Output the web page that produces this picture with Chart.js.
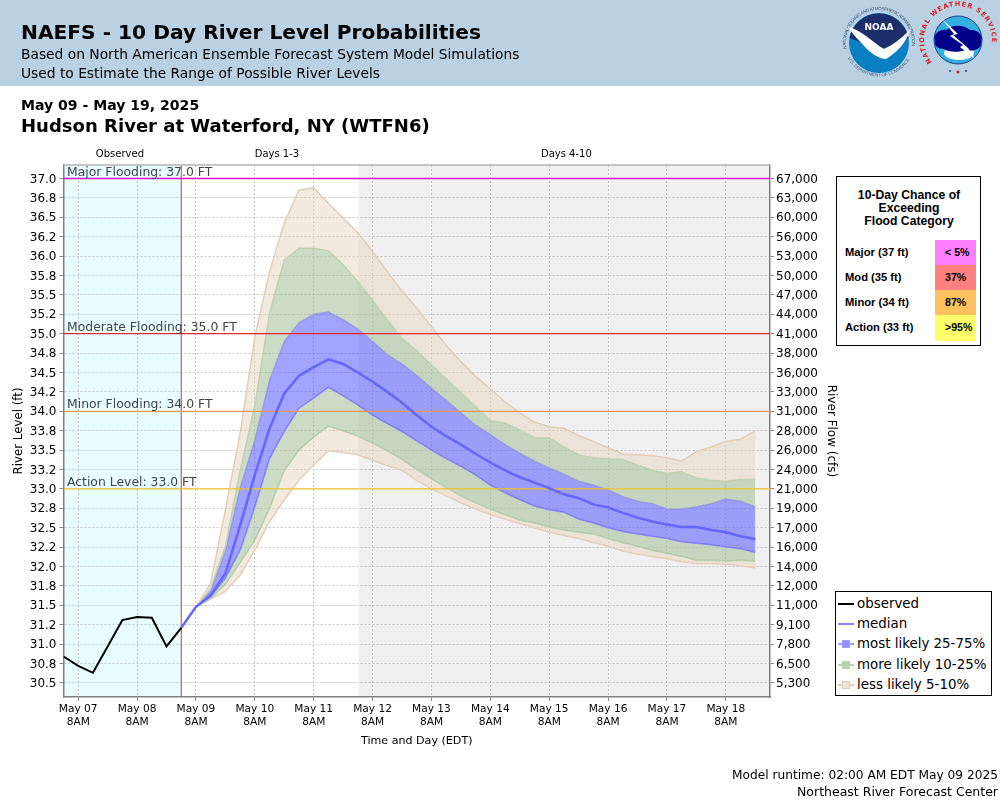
<!DOCTYPE html>
<html>
<head>
<meta charset="utf-8">
<title>NAEFS - 10 Day River Level Probabilities</title>
<script src="https://cdn.jsdelivr.net/npm/chart.js@4"></script>
<style>
  html, body { margin: 0; padding: 0; background: #fff; }
  body { width: 1000px; height: 800px; position: relative; overflow: hidden; font-family: "DejaVu Sans", sans-serif; color: #000; }
  #banner { position: absolute; left: 0; top: 0; width: 1000px; height: 86px; background: #bad1e3; }
  #chart { position: absolute; left: 0; top: 0; }
  .t { position: absolute; white-space: nowrap; }
  #logos { position: absolute; left: 830px; top: 0; }
  #floodBox { position: absolute; left: 836px; top: 176px; width: 143px; height: 168px; border: 1.5px solid #000; background: #fff; font-family: "Liberation Sans", sans-serif; font-weight: bold; }
  #floodBox .head { position: absolute; left: 0; width: 144px; top: 12px; text-align: center; font-size: 12.2px; line-height: 13px; }
  #floodBox .row { position: absolute; left: 0; width: 143px; height: 25px; font-size: 11.2px; line-height: 25px; }
  #floodBox .row .name { position: absolute; left: 8px; }
  #floodBox .row .pct { position: absolute; left: 98px; width: 41px; font-size: 10.6px; }
  #floodBox .row .pct span { position: absolute; left: 10px; }
  #legendBox { position: absolute; left: 835px; top: 591px; width: 155px; height: 103px; border: 1.5px solid #000; background: #fff; font-size: 13.4px; }
  #legendBox .item { position: absolute; left: 0; width: 155px; height: 20px; line-height: 20px; }
  #legendBox .item .lbl { position: absolute; left: 21px; }
  #legendBox .item .ln { position: absolute; left: 2px; width: 16px; height: 2px; top: 9px; }
  #legendBox .item .sq { position: absolute; left: 7px; width: 6px; height: 6px; top: 7px; }
</style>
</head>
<body>
<div id="banner"></div>
<canvas id="chart" width="1000" height="800"></canvas>

<div class="t" style="left:21px;top:20px;font-size:20.2px;font-weight:bold">NAEFS - 10 Day River Level Probabilities</div>
<div class="t" style="left:21px;top:46px;font-size:13.8px">Based on North American Ensemble Forecast System Model Simulations</div>
<div class="t" style="left:21px;top:65px;font-size:13.8px">Used to Estimate the Range of Possible River Levels</div>
<div class="t" style="left:21px;top:97px;font-size:14.05px;font-weight:bold">May 09 - May 19, 2025</div>
<div class="t" style="left:21px;top:115px;font-size:18.05px;font-weight:bold">Hudson River at Waterford, NY (WTFN6)</div>
<div class="t" style="right:2px;top:768px;font-size:12.2px">Model runtime: 02:00 AM EDT May 09 2025</div>
<div class="t" style="right:2px;top:784px;font-size:12.5px">Northeast River Forecast Center</div>

<svg id="logos" width="170" height="86" viewBox="830 0 170 86">
  <defs>
    <path id="noaaTop" d="M 846.5 48.7 A 33 33 0 1 1 911.5 48.7"></path>
    <path id="noaaBot" d="M 847 57 A 36 36 0 0 0 911 57"></path>
    <path id="nwsTop" d="M 932 62 A 34 34 0 1 1 984 62"></path>
  </defs>
  <text font-family="Liberation Sans" font-size="4.6" fill="#3a5a80"><textPath href="#noaaTop" textLength="112">NATIONAL OCEANIC AND ATMOSPHERIC ADMINISTRATION</textPath></text>
  <text font-family="Liberation Sans" font-size="4.4" fill="#3a5a80"><textPath href="#noaaBot" startOffset="2%" textLength="74">U.S. DEPARTMENT OF COMMERCE</textPath></text>
  <circle cx="879" cy="43" r="30" fill="#0a7fc2"></circle>
  <path d="M 849.5 38 A 30 30 0 0 1 908.5 38 L 880 50 Z" fill="#1d2f6b"></path>
  <path d="M 848 27 C 862 30 872 42 884 49 C 893 45 905 36 911 28 C 906 45 894 54 886 59 C 879 59 871 53 866 48 C 860 41 853 35 848 27 Z" fill="#fff"></path>
  <text x="879" y="30" text-anchor="middle" font-family="DejaVu Sans" font-weight="bold" font-size="9" fill="#fff">NOAA</text>

  <text font-family="DejaVu Sans" font-weight="bold" font-size="6.6" letter-spacing="1" fill="#d8232a"><textPath href="#nwsTop">NATIONAL WEATHER SERVICE</textPath></text>
  <circle cx="958" cy="40" r="24" fill="#35aee0" stroke="#1a3d8f" stroke-width="1"></circle>
  <ellipse cx="959" cy="53" rx="15" ry="7" fill="#fff"></ellipse>
  <path d="M 935 41 C 933 33 940 29 947 30 C 952 24 964 25 970 30 C 977 29 984 35 981 42 C 982 49 973 52 966 50 C 958 53 948 52 944 49 C 938 49 934 46 935 41 Z" fill="#00008b"></path>
  <path d="M 942 19 L 958 34 L 953 35 L 968 48 L 975 59 L 960 47 L 963 45 L 950 36 L 954 34 Z" fill="#fff"></path>
  <circle cx="950" cy="71" r="1" fill="#1a3d8f"></circle>
  <circle cx="958" cy="72" r="1.6" fill="#d8232a"></circle>
  <circle cx="966" cy="71" r="1" fill="#1a3d8f"></circle>
</svg>

<div id="floodBox">
  <div class="head">10-Day Chance of<br>Exceeding<br>Flood Category</div>
</div>
<div id="legendBox"></div>

<script>
// stage ticks (ft) and the rating curve labels that sit on the same gridlines
const stageTicks = [30.5, 30.75, 31, 31.25, 31.5, 31.75, 32, 32.25, 32.5, 32.75, 33, 33.25, 33.5, 33.75, 34, 34.25, 34.5, 34.75, 35, 35.25, 35.5, 35.75, 36, 36.25, 36.5, 36.75, 37];
const stageLabels = ["30.5", "30.8", "31.0", "31.2", "31.5", "31.8", "32.0", "32.2", "32.5", "32.8", "33.0", "33.2", "33.5", "33.8", "34.0", "34.2", "34.5", "34.8", "35.0", "35.2", "35.5", "35.8", "36.0", "36.2", "36.5", "36.8", "37.0"];
const flowLabels = ["5,300", "6,500", "7,800", "9,100", "11,000", "12,000", "14,000", "16,000", "17,000", "19,000", "21,000", "24,000", "26,000", "28,000", "31,000", "33,000", "36,000", "38,000", "41,000", "44,000", "47,000", "50,000", "53,000", "56,000", "60,000", "63,000", "67,000"];

// x is hours after May 07 8AM
const dayTicks = [0, 24, 48, 72, 96, 120, 144, 168, 192, 216, 240, 264];
const dayLabels = ["May 07", "May 08", "May 09", "May 10", "May 11", "May 12", "May 13", "May 14", "May 15", "May 16", "May 17", "May 18"];

const observedHours = [-6, 0, 6, 12, 18, 24, 30, 36, 42];
const observed = [30.84, 30.72, 30.63, 30.97, 31.31, 31.35, 31.34, 30.97, 31.21];

const forecastHours = [48, 54, 60, 66, 72, 78, 84, 90, 96, 102, 108, 114, 120, 126, 132, 138, 144, 150, 156, 162, 168, 174, 180, 186, 192, 198, 204, 210, 216, 222, 228, 234, 240, 246, 252, 258, 264, 270, 276];
const medianHours = [42].concat(forecastHours);
const median = [31.21, 31.48, 31.63, 31.91, 32.53, 33.18, 33.78, 34.23, 34.46, 34.57, 34.67, 34.61, 34.50, 34.38, 34.25, 34.11, 33.95, 33.80, 33.68, 33.57, 33.45, 33.34, 33.24, 33.15, 33.08, 33.01, 32.93, 32.88, 32.80, 32.76, 32.69, 32.63, 32.58, 32.54, 32.51, 32.51, 32.47, 32.44, 32.39, 32.35];
const tanTop = [31.48, 31.79, 32.73, 33.72, 34.96, 35.80, 36.43, 36.85, 36.88, 36.68, 36.49, 36.30, 36.06, 35.80, 35.55, 35.33, 35.09, 34.85, 34.64, 34.45, 34.29, 34.12, 33.98, 33.86, 33.80, 33.78, 33.69, 33.61, 33.53, 33.45, 33.44, 33.43, 33.40, 33.36, 33.48, 33.54, 33.61, 33.64, 33.75];
const greenTop = [31.48, 31.72, 32.26, 33.24, 34.08, 35.27, 35.95, 36.10, 36.10, 36.07, 35.89, 35.67, 35.43, 35.18, 34.94, 34.78, 34.60, 34.42, 34.24, 34.06, 33.88, 33.85, 33.76, 33.66, 33.66, 33.54, 33.44, 33.40, 33.39, 33.38, 33.31, 33.24, 33.20, 33.22, 33.14, 33.11, 33.10, 33.12, 33.12];
const blueTop = [31.48, 31.68, 32.19, 33.01, 33.63, 34.40, 34.90, 35.14, 35.25, 35.28, 35.18, 35.06, 34.90, 34.73, 34.61, 34.46, 34.30, 34.14, 33.98, 33.82, 33.70, 33.57, 33.46, 33.36, 33.27, 33.19, 33.10, 33.05, 32.99, 32.90, 32.84, 32.81, 32.74, 32.74, 32.77, 32.81, 32.87, 32.84, 32.77];
const blueBottom = [31.48, 31.61, 31.85, 32.21, 32.77, 33.39, 33.74, 34.04, 34.17, 34.31, 34.20, 34.08, 33.95, 33.84, 33.74, 33.62, 33.50, 33.39, 33.29, 33.18, 33.05, 32.95, 32.86, 32.78, 32.73, 32.70, 32.61, 32.56, 32.50, 32.45, 32.42, 32.39, 32.36, 32.32, 32.30, 32.28, 32.25, 32.23, 32.18];
const greenBottom = [31.48, 31.59, 31.77, 32.05, 32.34, 32.75, 33.24, 33.50, 33.67, 33.81, 33.75, 33.68, 33.59, 33.49, 33.38, 33.25, 33.13, 33.02, 32.91, 32.82, 32.74, 32.67, 32.60, 32.56, 32.51, 32.47, 32.44, 32.42, 32.36, 32.31, 32.26, 32.21, 32.17, 32.13, 32.08, 32.08, 32.07, 32.08, 32.07];
const tanBottom = [31.48, 31.58, 31.68, 31.89, 32.21, 32.58, 32.86, 33.11, 33.31, 33.49, 33.47, 33.44, 33.37, 33.30, 33.24, 33.11, 33.00, 32.91, 32.82, 32.74, 32.67, 32.61, 32.55, 32.50, 32.44, 32.40, 32.36, 32.31, 32.26, 32.20, 32.16, 32.13, 32.10, 32.06, 32.04, 32.04, 32.03, 32.01, 31.98];

const floodLevels = [37, 35, 34, 33];
const floodLabels = ["Major Flooding: 37.0 FT", "Moderate Flooding: 35.0 FT", "Minor Flooding: 34.0 FT", "Action Level: 33.0 FT"];
const floodColors = ["#dd11cc", "#dd2a2a", "#e89a55", "#f0c428"];

const chanceNames = ["Major (37 ft)", "Mod (35 ft)", "Minor (34 ft)", "Action (33 ft)"];
const chanceValues = ["< 5%", "37%", "87%", ">95%"];
const chanceColors = ["#ff80ff", "#ff8080", "#ffc060", "#ffff6c"];

const periodNames = ["Observed", "Days 1-3", "Days 4-10"];
const periodHours = [17, 81, 199];

const xMin = -6, xMax = 282, yMin = 30.318, yMax = 37.174;
const nowHour = 42, longRangeHour = 114.3;

const blueFill = "rgba(100,100,255,0.6)";
const greenFill = "rgba(170,195,160,0.6)";
const tanFill = "rgba(229,211,191,0.5)";
const blueLine = "#9090f8", greenLine = "#b8d2b0", tanLine = "#e4cfb6";

function pts(xs, ys) {
  return xs.map((x, i) => ({ x: x, y: ys[i] }));
}

function band(label, ys, line, fillColor) {
  return {
    label: label,
    data: pts(forecastHours, ys),
    borderColor: line,
    backgroundColor: fillColor || "transparent",
    borderWidth: 1.5,
    fill: fillColor ? "+1" : false,
    order: 3
  };
}

function hLine(i) {
  return {
    label: floodLabels[i],
    data: [{ x: xMin, y: floodLevels[i] }, { x: xMax, y: floodLevels[i] }],
    borderColor: floodColors[i],
    borderWidth: 1.3,
    fill: false,
    order: 2
  };
}

// shaded periods go under the grid, text and frame on top
const decorPlugin = {
  id: "decor",
  beforeDraw(chart) {
    const { ctx, chartArea: a, scales: { x } } = chart;
    ctx.save();
    ctx.fillStyle = "#e9ffff";
    ctx.fillRect(a.left, a.top, x.getPixelForValue(nowHour) - a.left, a.height);
    ctx.fillStyle = "#f0f0f0";
    const g = x.getPixelForValue(longRangeHour);
    ctx.fillRect(g, a.top, a.right - g, a.height);
    ctx.restore();
  },
  afterDraw(chart) {
    const { ctx, chartArea: a, scales: { x, y } } = chart;
    ctx.save();
    ctx.strokeStyle = "#b4b4b4";
    ctx.lineWidth = 1.5;
    ctx.beginPath();
    ctx.moveTo(a.left, a.top);
    ctx.lineTo(a.right, a.top);
    ctx.stroke();

    ctx.fillStyle = "#444";
    ctx.font = '12.4px "DejaVu Sans"';
    ctx.textBaseline = "alphabetic";
    floodLevels.forEach((lv, i) => {
      ctx.fillText(floodLabels[i], a.left + 3.5, y.getPixelForValue(lv) - 3);
    });

    ctx.fillStyle = "#000";
    ctx.font = '10px "DejaVu Sans"';
    ctx.textAlign = "center";
    periodNames.forEach((p, i) => {
      ctx.fillText(p, x.getPixelForValue(periodHours[i]), 157);
    });
    ctx.restore();
  }
};

function initChart() {
  const ctx = document.getElementById("chart").getContext("2d");
  new Chart(ctx, {
    type: "line",
    data: {
      datasets: [
        { label: "observed", data: pts(observedHours, observed), borderColor: "#000", borderWidth: 2, fill: false, order: 0 },
        { label: "median", data: pts(medianHours, median), borderColor: "#6666ff", borderWidth: 2.5, fill: false, order: 1 },
        band("less likely 5-10%", tanTop, tanLine, tanFill),
        band("more likely 10-25%", greenTop, greenLine, greenFill),
        band("most likely 25-75%", blueTop, blueLine, blueFill),
        band("25th", blueBottom, blueLine, greenFill),
        band("10th", greenBottom, greenLine, tanFill),
        band("5th", tanBottom, tanLine, null),
        hLine(0), hLine(1), hLine(2), hLine(3),
        { label: "now", data: [{ x: nowHour, y: yMin }, { x: nowHour, y: yMax }], borderColor: "#dd3333", borderWidth: 1, fill: false, order: 2 }
      ]
    },
    options: {
      responsive: false,
      animation: false,
      elements: { point: { radius: 0 }, line: { tension: 0 } },
      layout: { padding: { left: 11, right: 160, top: 165, bottom: 52 } },
      plugins: { legend: { display: false }, tooltip: { enabled: false } },
      scales: {
        x: {
          type: "linear",
          min: xMin,
          max: xMax,
          afterBuildTicks: s => { s.ticks = dayTicks.map(v => ({ value: v })); },
          afterFit: s => { s.height = 51; },
          ticks: {
            autoSkip: false,
            maxRotation: 0,
            color: "#000",
            font: { family: "DejaVu Sans", size: 10.6, lineHeight: 1.2 },
            padding: 2,
            callback: (v, i) => [dayLabels[i], "8AM"]
          },
          grid: { color: "#c4c4c4", tickColor: "#888", tickLength: 4 },
          border: { color: "#808080", width: 1.5, dash: [2, 2] },
          title: { display: true, text: "Time and Day (EDT)", color: "#000", font: { family: "DejaVu Sans", size: 11.1 }, padding: { top: 0, bottom: 0 } }
        },
        y: {
          position: "left",
          min: yMin,
          max: yMax,
          afterBuildTicks: s => { s.ticks = stageTicks.map(v => ({ value: v })); },
          afterFit: s => { s.width = 52.5; },
          ticks: {
            autoSkip: false,
            color: "#000",
            font: { family: "DejaVu Sans", size: 12, lineHeight: 0.17 },
            padding: 3,
            // empty first line nudges the text down onto the gridline
            callback: (v, i) => ["", stageLabels[i]]
          },
          grid: { color: "#c4c4c4", tickColor: "#888", tickLength: 4 },
          border: { color: "#808080", width: 1.5, dash: [2, 2] },
          title: { display: true, text: "River Level (ft)", color: "#000", font: { family: "DejaVu Sans", size: 11.8 }, padding: { top: 1, bottom: 0 } }
        },
        yFlow: {
          position: "right",
          min: yMin,
          max: yMax,
          afterBuildTicks: s => { s.ticks = stageTicks.map(v => ({ value: v })); },
          afterFit: s => { s.width = 70; },
          ticks: {
            autoSkip: false,
            color: "#000",
            font: { family: "DejaVu Sans", size: 12, lineHeight: 0.17 },
            padding: 2,
            callback: (v, i) => ["", flowLabels[i]]
          },
          grid: { drawOnChartArea: false, tickColor: "#888", tickLength: 4 },
          border: { color: "#808080", width: 1.5 },
          title: { display: true, text: "River Flow (cfs)", color: "#000", font: { family: "DejaVu Sans", size: 12 }, padding: { top: 2, bottom: 0 } }
        }
      }
    },
    plugins: [decorPlugin]
  });
}

function buildFloodBox() {
  const box = document.getElementById("floodBox");
  chanceNames.forEach((name, i) => {
    const row = document.createElement("div");
    row.className = "row";
    row.style.top = (63 + i * 25) + "px";
    row.innerHTML = '<span class="name">' + name + '</span><div class="pct" style="height:' + (i === 3 ? 26 : 25) + 'px;background:' + chanceColors[i] + '"><span>' +
      chanceValues[i].replace("<", "&lt;").replace(">", "&gt;") + "</span></div>";
    box.appendChild(row);
  });
}

function buildLegend() {
  const items = [
    { text: "observed", line: "#000" },
    { text: "median", line: "#8888ff" },
    { text: "most likely 25-75%", line: "#a0a0f8", square: "#9090ff" },
    { text: "more likely 10-25%", line: "#b8d2b0", square: "#b8d2b0" },
    { text: "less likely 5-10%", line: "#e4cfb6", square: "#efe4d6" }
  ];
  const box = document.getElementById("legendBox");
  items.forEach((it, i) => {
    const d = document.createElement("div");
    d.className = "item";
    d.style.top = (1.5 + i * 20.4) + "px";
    let html = '<div class="ln" style="background:' + it.line + '"></div>';
    if (it.square) html += '<div class="sq" style="background:' + it.square + ';outline:1px solid ' + it.line + '"></div>';
    d.innerHTML = html + '<span class="lbl">' + it.text + "</span>";
    box.appendChild(d);
  });
}

initChart();
buildFloodBox();
buildLegend();
</script>
</body>
</html>
